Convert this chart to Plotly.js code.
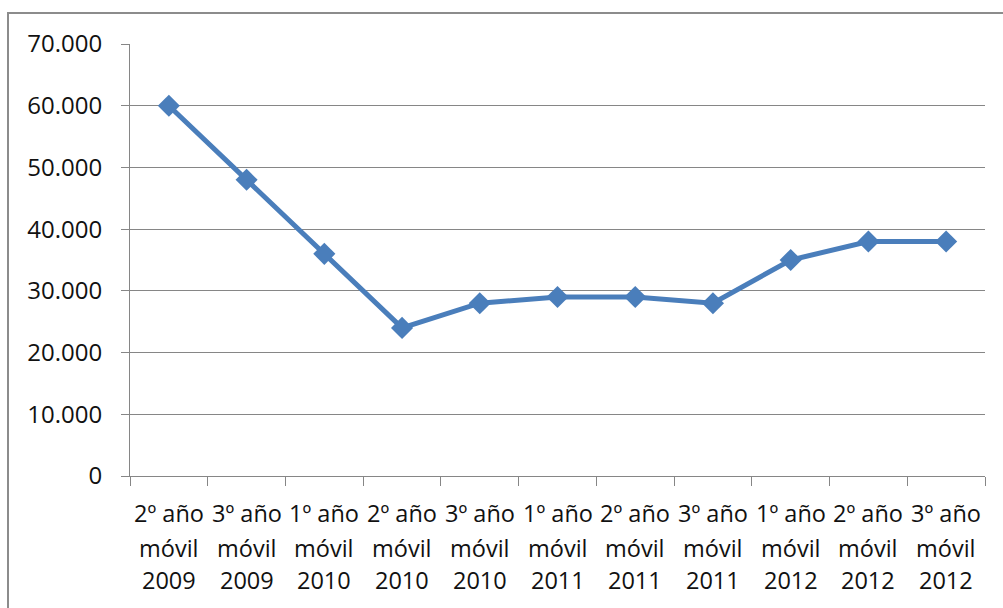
<!DOCTYPE html>
<html>
<head>
<meta charset="utf-8">
<script src="https://cdn.plot.ly/plotly-3.0.1.min.js"></script>
<style>
html,body{margin:0;padding:0;background:#fff;overflow:hidden;}
#frame{position:absolute;left:7px;top:12px;width:1100px;height:700px;border-left:2px solid #8c8c8c;border-top:2px solid #8c8c8c;}
#chart{position:absolute;left:0;top:0;width:1003px;height:608px;}
</style>
</head>
<body>
<div id="frame"></div>
<div id="chart"></div>
<script>
const categories = ["2º año móvil 2009","3º año móvil 2009","1º año móvil 2010","2º año móvil 2010","3º año móvil 2010","1º año móvil 2011","2º año móvil 2011","3º año móvil 2011","1º año móvil 2012","2º año móvil 2012","3º año móvil 2012"];
const labelLine1 = ["2º año","3º año","1º año","2º año","3º año","1º año","2º año","3º año","1º año","2º año","3º año"];
const labelLine2 = ["móvil","móvil","móvil","móvil","móvil","móvil","móvil","móvil","móvil","móvil","móvil"];
const labelLine3 = ["2009","2009","2010","2010","2010","2011","2011","2011","2012","2012","2012"];
const values = [60000,48000,36000,24000,28000,29000,29000,28000,35000,38000,38000];
const yTickVals = [0,10000,20000,30000,40000,50000,60000,70000];
const yTickText = ["0","10.000","20.000","30.000","40.000","50.000","60.000","70.000"];

const FONT = "Open Sans, sans-serif";
const annotations = [];
const lines = [labelLine1, labelLine2, labelLine3];
const shifts = [-37, -72, -104];
lines.forEach((arr, li) => {
  arr.forEach((t, i) => {
    annotations.push({
      x: categories[i], xref: "x", y: 0, yref: "paper",
      text: t, showarrow: false, yanchor: "middle", xanchor: "center",
      yshift: shifts[li],
      font: {family: FONT, size: 23.5, color: "#111"}
    });
  });
});

const trace = {
  x: categories, y: values, type: "scatter", mode: "lines+markers",
  line: {color: "#4A7EBB", width: 5},
  marker: {symbol: "diamond", size: 17, color: "#4A7EBB"},
  hoverinfo: "none"
};

const layout = {
  width: 1003, height: 608,
  margin: {l: 130, r: 18, t: 44, b: 132},
  paper_bgcolor: "rgba(0,0,0,0)", plot_bgcolor: "rgba(0,0,0,0)",
  showlegend: false,
  font: {family: FONT, size: 24, color: "#111"},
  xaxis: {
    type: "category", range: [-0.5, 10.5],
    showgrid: false, zeroline: false,
    showline: true, linecolor: "#868686", linewidth: 1,
    ticks: "outside", tickson: "boundaries", ticklen: 9, tickcolor: "#868686", tickwidth: 1,
    showticklabels: false, fixedrange: true
  },
  yaxis: {
    range: [0, 70000], tickvals: yTickVals, ticktext: yTickText,
    showgrid: true, gridcolor: "#868686", gridwidth: 1,
    zeroline: false,
    showline: true, linecolor: "#868686", linewidth: 1,
    ticks: "outside", ticklen: 8, tickcolor: "#868686", tickwidth: 1,
    ticklabelstandoff: 14,
    tickfont: {family: FONT, size: 24, color: "#111"},
    fixedrange: true
  },
  annotations: annotations
};

Plotly.newPlot("chart", [trace], layout, {displayModeBar: false, staticPlot: true});
</script>
</body>
</html>
